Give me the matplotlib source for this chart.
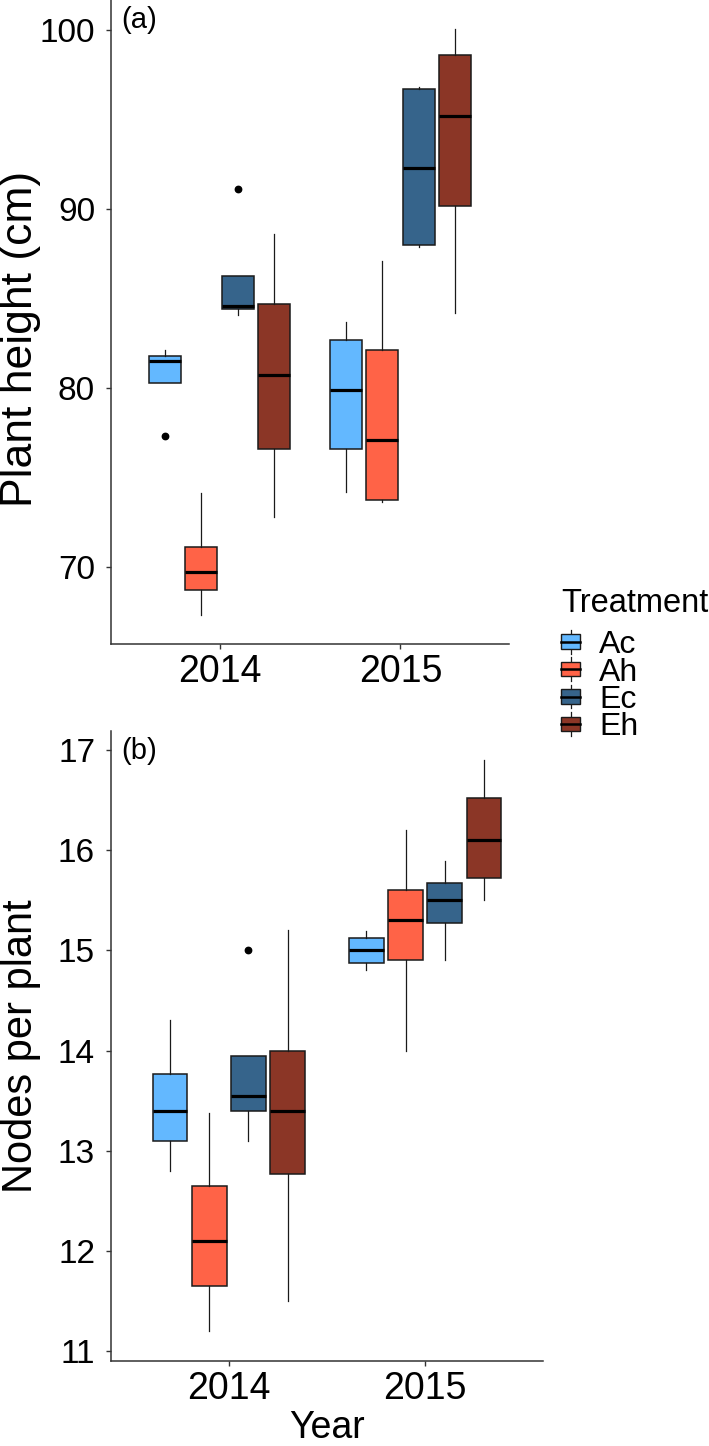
import matplotlib
matplotlib.use('Agg')
import matplotlib.pyplot as plt
from matplotlib.patches import Rectangle
from matplotlib.lines import Line2D
from matplotlib.legend_handler import HandlerBase

plt.rcParams['font.family'] = ['Liberation Sans', 'DejaVu Sans']

years = ['2014', '2015']
treatments = ['Ac', 'Ah', 'Ec', 'Eh']
colors = ['#63B8FF', '#FF6347', '#36648B', '#8B3626']

# Panel (a): plant height (cm), values per treatment for [2014, 2015]
h_whislo = {'Ac': [80.3, 74.2], 'Ah': [67.3, 73.6], 'Ec': [84.1, 87.9], 'Eh': [72.8, 84.2]}
h_q1 = {'Ac': [80.3, 76.6], 'Ah': [68.7, 73.75], 'Ec': [84.4, 88.0], 'Eh': [76.6, 90.2]}
h_med = {'Ac': [81.5, 79.9], 'Ah': [69.7, 77.1], 'Ec': [84.6, 92.3], 'Eh': [80.7, 95.2]}
h_q3 = {'Ac': [81.8, 82.7], 'Ah': [71.1, 82.1], 'Ec': [86.25, 96.7], 'Eh': [84.7, 98.6]}
h_whishi = {'Ac': [82.1, 83.7], 'Ah': [74.1, 87.1], 'Ec': [86.25, 96.85], 'Eh': [88.6, 100.05]}
h_out = {'Ac': [[77.3], []], 'Ah': [[], []], 'Ec': [[91.1], []], 'Eh': [[], []]}

# Panel (b): nodes per plant
n_whislo = {'Ac': [12.8, 14.8], 'Ah': [11.2, 14.0], 'Ec': [13.1, 14.9], 'Eh': [11.5, 15.5]}
n_q1 = {'Ac': [13.1, 14.87], 'Ah': [11.65, 14.9], 'Ec': [13.4, 15.27], 'Eh': [12.77, 15.72]}
n_med = {'Ac': [13.4, 15.0], 'Ah': [12.1, 15.3], 'Ec': [13.55, 15.5], 'Eh': [13.4, 16.1]}
n_q3 = {'Ac': [13.77, 15.12], 'Ah': [12.65, 15.6], 'Ec': [13.95, 15.67], 'Eh': [14.0, 16.52]}
n_whishi = {'Ac': [14.3, 15.19], 'Ah': [13.38, 16.2], 'Ec': [13.95, 15.89], 'Eh': [15.2, 16.9]}
n_out = {'Ac': [[], []], 'Ah': [[], []], 'Ec': [[15.0], []], 'Eh': [[], []]}

W, H = 709, 1446
fig = plt.figure(figsize=(W / 100, H / 100), dpi=100)

def px_axes(x0, y0, x1, y1):
    return fig.add_axes([x0 / W, 1 - y1 / H, (x1 - x0) / W, (y1 - y0) / H])

ax_a = px_axes(111, 0, 509, 644)
ax_b = px_axes(111, 731, 543, 1361)

offsets = [-0.3, -0.1, 0.1, 0.3]
edge = '#1a1a1a'

def draw(ax, whislo, q1, med, q3, whishi, out):
    for ti, t in enumerate(treatments):
        for yi in range(len(years)):
            st = dict(whislo=whislo[t][yi], q1=q1[t][yi], med=med[t][yi], q3=q3[t][yi],
                      whishi=whishi[t][yi], fliers=out[t][yi])
            ax.bxp([st], positions=[yi + 1 + offsets[ti]], widths=0.177, patch_artist=True,
                   showcaps=False, manage_ticks=False,
                   boxprops=dict(facecolor=colors[ti], edgecolor=edge, linewidth=1.1),
                   medianprops=dict(color='black', linewidth=2.3, solid_capstyle='butt'),
                   whiskerprops=dict(color=edge, linewidth=0.9),
                   flierprops=dict(marker='o', markerfacecolor='black', markeredgecolor='black',
                                   markersize=4.6))

draw(ax_a, h_whislo, h_q1, h_med, h_q3, h_whishi, h_out)
draw(ax_b, n_whislo, n_q1, n_med, n_q3, n_whishi, n_out)

ax_a.set_ylim(65.67, 101.7)
ax_a.set_yticks([70, 80, 90, 100])
ax_b.set_ylim(10.9, 17.19)
ax_b.set_yticks([11, 12, 13, 14, 15, 16, 17])

for ax in (ax_a, ax_b):
    ax.set_xlim(0.4, 2.6)
    ax.set_xticks([1, 2])
    ax.set_xticklabels(years)
    for s in ('top', 'right'):
        ax.spines[s].set_visible(False)
    for s in ('left', 'bottom'):
        ax.spines[s].set_color('#333333')
        ax.spines[s].set_linewidth(1.1)
    ax.tick_params(axis='y', length=3.5, width=1.0, color='#333333', labelsize=24, pad=8, labelcolor='black')
    ax.tick_params(axis='x', length=3.5, width=1.0, color='#333333', labelsize=27, pad=4, labelcolor='black')

ax_a.text(0.025, 0.99, '(a)', transform=ax_a.transAxes, ha='left', va='top', fontsize=21)
ax_b.text(0.023, 0.99, '(b)', transform=ax_b.transAxes, ha='left', va='top', fontsize=21)

fig.text(21 / W, 1 - 339 / H, 'Plant height (cm)', rotation=90, ha='center', va='center', fontsize=32)
fig.text(21 / W, 1 - 1046 / H, 'Nodes per plant', rotation=90, ha='center', va='center', fontsize=30)
fig.text(327 / W, 0.0, 'Year', ha='center', va='bottom', fontsize=27)


class BoxHandler(HandlerBase):
    def create_artists(self, legend, orig_handle, xdescent, ydescent, width, height, fontsize, trans):
        fc = orig_handle.get_facecolor()
        x0, x1 = -xdescent, -xdescent + width
        xm = (x0 + x1) / 2
        y0 = -ydescent
        yb, yt = y0 + 0.1 * height, y0 + 0.9 * height
        whisk = Line2D([xm, xm], [y0 - 0.15 * height, y0 + 1.15 * height], color=edge, lw=0.9, transform=trans)
        rect = Rectangle((x0, yb), width, yt - yb, facecolor=fc, edgecolor=edge, lw=1.0, transform=trans)
        ym = (yb + yt) / 2
        med = Line2D([x0, x1], [ym, ym], color='black', lw=1.8, transform=trans)
        return [whisk, rect, med]


handles = [Rectangle((0, 0), 1, 1, facecolor=c) for c in colors]
leg = fig.legend(handles, treatments, handler_map={Rectangle: BoxHandler()},
                 loc='upper left', bbox_to_anchor=(561 / W, 1 - 588 / H), frameon=False,
                 title='Treatment', fontsize=23, title_fontsize=23.5,
                 handlelength=0.6, handleheight=0.5, handletextpad=0.6, labelspacing=-0.08,
                 borderpad=0, borderaxespad=0)
leg._legend_box.align = 'left'
leg._legend_box.sep = 8

fig.savefig('out.png', dpi=100)
